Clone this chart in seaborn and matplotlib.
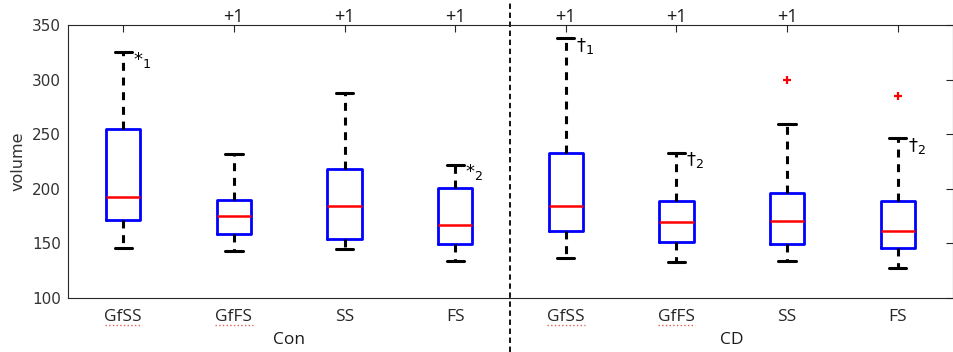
import numpy as np
import pandas as pd
import seaborn as sns
import matplotlib.pyplot as plt

# ---- data ----
groups = ["Con", "Con", "Con", "Con", "CD", "CD", "CD", "CD"]
conditions = ["GfSS", "GfFS", "SS", "FS", "GfSS", "GfFS", "SS", "FS"]
lower_whisker = [146, 143, 145, 134, 136, 133, 134, 127]
q1 = [171, 158, 154, 149, 161, 151, 149, 146]
median = [192, 175, 184, 167, 184, 169, 170, 161]
q3 = [255, 190, 218, 201, 233, 189, 196, 189]
upper_whisker = [325, 232, 288, 222, 338, 233, 259, 246]
outlier_group = [6, 7]
outlier_value = [300, 285]
top_counts = ["", "+1", "+1", "+1", "+1", "+1", "+1", ""]
marks = ["$*_1$", "", "", "$*_2$", r"$\dagger_1$", r"$\dagger_2$", "", r"$\dagger_2$"]
yticks = [100, 150, 200, 250, 300, 350]

keys = [f"{g}_{c}" for g, c in zip(groups, conditions)]
rows = []
for k, a, b, m, c, d in zip(keys, lower_whisker, q1, median, q3, upper_whisker):
    for v in (a, b, m, c, d):
        rows.append({"key": k, "volume": v})
df = pd.DataFrame(rows)

sns.set_theme(style="white")
plt.rcParams["font.family"] = ["Open Sans", "DejaVu Sans"]
plt.rcParams["mathtext.fontset"] = "dejavusans"

fig = plt.figure(figsize=(9.54, 3.52), dpi=100)
ax = fig.add_axes([68 / 954, (352 - 297.7) / 352, (953 - 68) / 954, 272.7 / 352])

sns.boxplot(data=df, x="key", y="volume", order=keys, width=0.31,
            whis=(0, 100), fill=False, linecolor="black", linewidth=2,
            ax=ax, capwidths=0.155)

cont = ax.containers[0]
for b in cont.boxes:
    b.set_color("#0000ff")
    b.set_linewidth(2.0)
for m in cont.medians:
    m.set_color("#ff0000")
    m.set_linewidth(1.8)
for w in cont.whiskers:
    w.set_color("black")
    w.set_linewidth(2.2)
    w.set_linestyle((0, (2.6, 2.2)))
for c in cont.caps:
    c.set_color("black")
    c.set_linewidth(2.2)

ax.plot(outlier_group, outlier_value, linestyle="none", marker="+",
        color="#ff0000", markersize=6, markeredgewidth=1.6)

ax.set_xlim(-0.5, 7.5)
ax.set_ylim(100, 350)
ax.set_yticks(yticks)
ax.set_xticks(range(len(keys)))
ax.set_xticklabels(conditions)
ax.set_xlabel("")
ax.set_ylabel("volume", fontsize=11.5, color="#333333", labelpad=5,
              family="DejaVu Sans")

ax.tick_params(axis="both", which="both", direction="in", length=5, width=0.8,
               color="#262626", labelcolor="#262626",
               top=True, right=True)
ax.tick_params(axis="x", pad=8, labelsize=12.5)
ax.tick_params(axis="y", pad=5, labelsize=11, labelcolor="#333333")
for lab in ax.get_yticklabels():
    lab.set_family("DejaVu Sans")
for s in ax.spines.values():
    s.set_visible(True)
    s.set_color("#262626")
    s.set_linewidth(0.8)

xt = ax.get_xaxis_transform()
# top counts
for i, t in enumerate(top_counts):
    if t:
        ax.text(i, 1.03, t, transform=xt, ha="center", va="center",
                fontsize=13, color="#1a1a1a", clip_on=False)

# significance marks
for i, t in enumerate(marks):
    if t:
        ax.text(i + 0.09, upper_whisker[i] + 2, t, ha="left", va="top",
                fontsize=13, color="black")

# group labels
ax.text(1.5, -0.155, "Con", transform=xt, ha="center", va="center",
        fontsize=12.5, color="#1a1a1a", clip_on=False)
ax.text(5.5, -0.155, "CD", transform=xt, ha="center", va="center",
        fontsize=12.5, color="#1a1a1a", clip_on=False)

# spell-check style underline under Gf labels
for i, c in enumerate(conditions):
    if c.startswith("Gf"):
        ax.plot([i - 0.17, i + 0.17], [-0.1, -0.1], transform=xt,
                color="#e06060", linestyle=":", linewidth=1.0, clip_on=False)

# dashed separator across the whole figure
ax.plot([3.5, 3.5], [-0.2, 1.1], transform=xt, color="black",
        linestyle=(0, (3, 2)), linewidth=1.3, clip_on=False)

fig.savefig("out.png", dpi=100)
